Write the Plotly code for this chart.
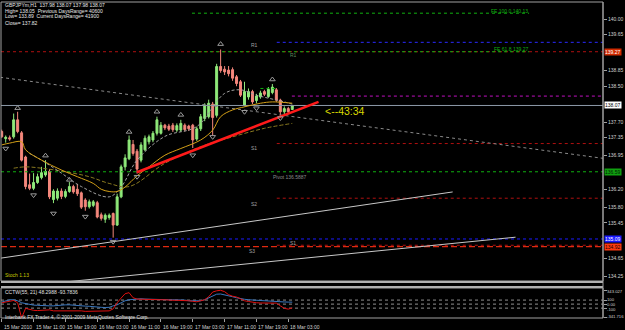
import plotly.graph_objects as go

# ---------------- data ----------------
bars = list(range(74))
opens = [137.49,137.33,137.35,137.37,137.75,137.46,136.92,136.30,136.22,136.35,
         136.46,136.52,136.60,135.97,136.00,136.16,136.04,136.15,136.26,136.20,
         136.12,135.96,135.81,135.84,135.90,135.63,135.53,135.57,135.66,135.40,
         136.03,136.70,136.88,137.20,137.05,136.85,137.08,137.26,137.30,137.45,
         137.45,137.63,137.61,137.63,137.52,137.52,137.63,137.61,137.63,137.32,
         137.55,137.78,137.82,138.10,137.85,138.94,138.88,138.86,138.87,138.71,
         138.60,138.08,138.26,138.38,138.18,138.26,138.38,138.27,138.36,138.42,
         138.19,137.93,138.00,137.98]
highs = [137.53,137.40,137.40,137.89,137.93,137.50,136.95,136.55,136.56,136.55,
         136.70,136.85,136.65,136.20,136.22,136.22,136.20,136.36,136.30,136.32,
         136.15,136.00,135.97,135.96,135.94,135.68,135.66,135.66,135.68,136.10,
         136.75,136.98,137.40,137.30,137.10,137.25,137.40,137.42,137.50,137.82,
         137.70,137.66,137.66,137.68,137.67,137.75,137.67,137.64,137.66,137.60,
         137.88,138.12,138.20,138.15,139.00,139.32,138.95,138.95,138.92,138.75,
         138.64,138.60,138.45,138.42,138.33,138.40,138.42,138.48,138.55,138.46,
         138.22,138.05,138.04,138.07]
lows = [137.35,137.24,137.28,137.33,137.45,136.82,136.20,136.18,136.18,136.32,
        136.42,136.48,135.98,135.89,135.95,135.98,136.00,136.12,136.10,136.05,
        135.76,135.72,135.77,135.80,135.55,135.50,135.45,135.52,135.12,135.38,
        136.00,136.62,136.85,136.95,136.55,136.80,137.05,137.20,137.25,137.40,
        137.42,137.52,137.50,137.48,137.48,137.48,137.49,137.50,137.12,137.28,
        137.50,137.72,137.78,137.40,137.80,138.80,138.75,138.72,138.62,138.50,
        138.26,138.05,138.20,138.10,138.12,138.22,138.28,138.24,138.32,138.15,
        137.81,137.88,137.88,137.98]
closes = [137.37,137.36,137.32,137.75,137.49,136.85,136.26,136.22,136.35,136.48,
          136.57,136.60,136.03,136.16,136.16,136.04,136.15,136.26,136.14,136.10,
          135.80,135.81,135.92,135.92,135.58,135.55,135.62,135.62,135.40,136.03,
          136.70,136.90,137.30,137.00,136.65,137.19,137.34,137.37,137.45,137.75,
          137.63,137.57,137.54,137.53,137.62,137.67,137.53,137.55,137.30,137.55,
          137.82,138.08,138.12,137.80,138.94,138.85,138.82,138.78,138.68,138.56,
          138.30,138.38,138.38,138.15,138.28,138.35,138.32,138.43,138.48,138.19,
          137.93,138.00,137.93,138.07]

# moving averages
ma_fast_x = [0, 2, 5, 6, 10, 15, 19, 23, 25, 27, 29, 31, 34, 37, 41, 45, 50, 53, 55, 58, 61, 65, 68, 73]
ma_fast_y = [137.19, 137.23, 137.26, 137.08, 136.85, 136.63, 136.48, 136.33, 136.20, 136.15, 136.15, 136.25,
             136.50, 136.70, 136.96, 137.11, 137.30, 137.52, 137.82, 137.97, 138.04, 138.12, 138.15, 138.12]
ma_slow_x = [3, 6, 10, 16, 22, 27, 32, 41, 50, 58, 66, 73]
ma_slow_y = [136.67, 136.70, 136.67, 136.59, 136.48, 136.33, 136.26, 136.78, 137.15, 137.37, 137.56, 137.67]
ma_gray_x = [7, 10, 15, 20, 27, 30, 34, 41, 49, 56, 60, 64, 71, 73]
ma_gray_y = [137.00, 136.85, 136.56, 136.26, 136.03, 136.25, 136.85, 137.38, 137.60, 138.34, 138.42, 138.30, 138.15, 138.10]

# fractals
frac_up_x = [4, 11, 17, 32, 39, 45, 55, 68]
frac_up_y = [138.01, 136.95, 136.41, 137.48, 137.93, 137.86, 139.44, 138.65]
frac_dn_x = [1, 8, 13, 21, 28, 34, 48, 53, 61, 64, 70]
frac_dn_y = [137.11, 136.07, 135.66, 135.59, 135.03, 136.48, 136.96, 137.37, 137.93, 138.01, 137.79]

# drawn lines
trend_x = [34, 79.6]
trend_y = [136.58, 138.15]
diag_x = [-0.4, 151.1]
diag_y = [138.70, 136.89]
riseA_x = [-0.4, 113.3]
riseA_y = [134.66, 136.14]
riseB_x = [0, 129.1]
riseB_y = [133.99, 135.13]

# horizontal levels
bid_price = 138.07
fe100_price, fe618_price = 140.13, 139.27
r1_price = 139.27
blue_hi_price = 139.48
magenta_price = 138.28
s1_price, s2_price, s3_price = 137.22, 136.00, 134.95
pivot_price = 136.59
blue_lo_price = 135.09
red_dash_price = 134.92
green_box_price = 138.45

# indicator CCTW(55,21)
cct_red = [33, 58, 83, 90, 33, -341.72, -105, -130, -155, -160, -155, -143, -143, -168, -168, -168, -168,
           -155, -155, -168, -168, -180, -180, -180, -180, -186, -186, -168, -118, 33, 150, 258, 284, 158,
           125, 120, 113, 108, 108, 108, 108, 108, 95, 95, 95, 95, 95, 83, 70, 58, 83, 108, 183, 300, 330,
           343.03, 309, 233, 196, 176, 133, 83, 65, 45, 33, 28, 25, 25, 25, 25, -43, -105, -125, -93.78]
cct_blue = [50, 83, 108, 108, 83, 33, 8, -18, -25, -30, -38, -43, -43, -43, -30, -30, -18, -18, -30, -43,
            -43, -50, -55, -68, -75, -80, -85, -80, -43, -18, 33, 83, 108, 120, 133, 133, 125, 120, 115, 115,
            115, 113, 108, 108, 108, 108, 100, 83, 83, 83, 83, 108, 158, 208, 246, 251, 233, 208, 183, 158,
            133, 120, 108, 100, 95, 83, 83, 78, 70, 65, 58, 53, 50, 48.30]

price_ticks = [140.00, 139.65, 138.85, 138.50, 137.70, 137.35, 136.95, 136.20, 135.80, 135.45, 134.65, 134.25]
time_tick_bars = [0, 8, 16, 24, 32, 40, 48, 56, 64, 72]
time_tick_labels = ["15 Mar 2010", "15 Mar 11:00", "15 Mar 19:00", "16 Mar 03:00", "16 Mar 11:00",
                    "16 Mar 19:00", "17 Mar 03:00", "17 Mar 11:00", "17 Mar 19:00", "18 Mar 03:00"]
cct_ticks = [343.027, 100, 0, -100, -341.716]
cct_tick_labels = ["343.027", "100", "0.00", "-100", "-341.716"]

header_lines = ["GBPJPYm,H1  137.98 138.07 137.98 138.07",
                "High= 138.05  Previous DaysRange= 40600",
                "Low= 133.89  Current DaysRange= 41900",
                "Close= 137.82"]

# ---------------- figure ----------------
W, H = 625, 330
ML, MR, MT, MB = 1, 19, 2, 12
PH = H - MT - MB
XMAX = 151.07
XMIN = -0.18
CCT_RANGE = [-345, 400]


def paper_y(ypix):
    return (H - MB - ypix) / PH


def paper_x(xpix):
    return (xpix - ML) / (W - ML - MR)


main_bottom = paper_y(281)
ind_top = paper_y(288)

FONT = "Liberation Sans, Arial, sans-serif"
SMALL = 5
BULL = "#8fe97a"
BEAR = "#f4877c"
DKRED = "#b01010"
GREEN = "#10b010"
AXTXT = "#d0d0d0"

fig = go.Figure()


def hline(price, x0, x1, color, dash, width=1):
    fig.add_trace(go.Scatter(x=[x0, x1], y=[price, price], mode="lines",
                             line=dict(color=color, dash=dash, width=width),
                             hoverinfo="skip", showlegend=False, xaxis="x", yaxis="y"))


hline(r1_price, XMIN, XMAX, DKRED, "dot")
hline(fe618_price, 47.8, 132.5, GREEN, "dot")
hline(fe100_price, 47.8, 132.5, GREEN, "dot")
hline(blue_hi_price, 69.1, XMAX, "#2a2aff", "dot")
hline(magenta_price, 72.9, XMAX, "#c010c0", "dot")
hline(green_box_price, 65, 69, GREEN, "dot")
hline(s1_price, 69.1, XMAX, DKRED, "dot")
hline(pivot_price, XMIN, XMAX, GREEN, "dot")
hline(s2_price, 69.1, XMAX, DKRED, "dot")
hline(blue_lo_price, XMIN, XMAX, "#1a1aff", "dot")
hline(s3_price, 69.1, XMAX, DKRED, "dot")
hline(red_dash_price, XMIN, XMAX, "#e02a10", "6px,3px", 1.3)
hline(bid_price, XMIN, XMAX, "#8c9aa8", "solid")

for xs, ys, col, dash in [(diag_x, diag_y, "#8a8a8a", "dot"),
                          (riseA_x, riseA_y, "#c8c8c8", "solid"),
                          (riseB_x, riseB_y, "#c8c8c8", "solid")]:
    fig.add_trace(go.Scatter(x=xs, y=ys, mode="lines", line=dict(color=col, dash=dash, width=1),
                             hoverinfo="skip", showlegend=False, xaxis="x", yaxis="y"))

# moving averages
fig.add_trace(go.Scatter(x=ma_slow_x, y=ma_slow_y, mode="lines", line=dict(color="#8a7a20", dash="4px,2px", width=1),
                         line_shape="spline", hoverinfo="skip", showlegend=False))
fig.add_trace(go.Scatter(x=ma_gray_x, y=ma_gray_y, mode="lines", line=dict(color="#a0a0a0", dash="3px,2px", width=1),
                         line_shape="spline", hoverinfo="skip", showlegend=False))
fig.add_trace(go.Scatter(x=ma_fast_x, y=ma_fast_y, mode="lines", line=dict(color="#d4a017", width=1),
                         line_shape="spline", hoverinfo="skip", showlegend=False))

# candles
fig.add_trace(go.Candlestick(x=bars, open=opens, high=highs, low=lows, close=closes,
                             increasing=dict(line=dict(color=BULL, width=1), fillcolor=BULL),
                             decreasing=dict(line=dict(color=BEAR, width=1), fillcolor=BEAR),
                             whiskerwidth=0, hoverinfo="skip", showlegend=False))

# trend line
fig.add_trace(go.Scatter(x=trend_x, y=trend_y, mode="lines", line=dict(color="#ff1a1a", width=2.6),
                         hoverinfo="skip", showlegend=False))

# fractals
fig.add_trace(go.Scatter(x=frac_up_x, y=frac_up_y, mode="markers",
                         marker=dict(symbol="triangle-up-open", size=5, color="#9a9a9a", line=dict(width=1)),
                         hoverinfo="skip", showlegend=False))
fig.add_trace(go.Scatter(x=frac_dn_x, y=frac_dn_y, mode="markers",
                         marker=dict(symbol="triangle-down-open", size=5, color="#9a9a9a", line=dict(width=1)),
                         hoverinfo="skip", showlegend=False))

# indicator
for lv in [100, 0, -100]:
    fig.add_trace(go.Scatter(x=[XMIN, XMAX], y=[lv, lv], mode="lines",
                             line=dict(color="#909090", dash="dot", width=1),
                             hoverinfo="skip", showlegend=False, xaxis="x2", yaxis="y2"))
fig.add_trace(go.Scatter(x=bars, y=cct_blue, mode="lines", line=dict(color="#3a78c0", width=1),
                         hoverinfo="skip", showlegend=False, xaxis="x2", yaxis="y2"))
fig.add_trace(go.Scatter(x=bars, y=cct_red, mode="lines", line=dict(color="#e01010", width=1),
                         hoverinfo="skip", showlegend=False, xaxis="x2", yaxis="y2"))

axis_common = dict(showgrid=False, zeroline=False, showline=False)
fig.update_layout(
    width=W, height=H, margin=dict(l=ML, r=MR, t=MT, b=MB),
    paper_bgcolor="black", plot_bgcolor="black",
    showlegend=False,
    xaxis=dict(domain=[0, 1], range=[XMIN, XMAX], anchor="y", showticklabels=False, ticks="",
               rangeslider=dict(visible=False), **axis_common),
    yaxis=dict(domain=[main_bottom, 1], range=[134.152, 140.38], side="right", anchor="x",
               tickvals=price_ticks, ticktext=[f"{v:.2f}" for v in price_ticks],
               ticks="outside", ticklen=3, tickcolor="#a0a0a0",
               tickfont=dict(family=FONT, size=SMALL, color=AXTXT), **axis_common),
    xaxis2=dict(domain=[0, 1], range=[XMIN, XMAX], anchor="y2", showticklabels=False,
                tickvals=time_tick_bars, ticks="outside", ticklen=3, tickcolor="#a0a0a0", **axis_common),
    yaxis2=dict(domain=[0, ind_top], range=CCT_RANGE, side="right", anchor="x2",
                tickvals=cct_ticks, showticklabels=False,
                ticks="outside", ticklen=3, tickcolor="#a0a0a0", **axis_common),
)

shapes = []
frame = dict(color="#a0a0a0", width=1)
shapes.append(dict(type="rect", xref="paper", yref="paper", x0=0, x1=1, y0=main_bottom, y1=1, line=frame))
shapes.append(dict(type="rect", xref="paper", yref="paper", x0=0, x1=1, y0=0, y1=ind_top, line=frame))
shapes.append(dict(type="line", xref="paper", yref="paper", x0=0, x1=1, y0=paper_y(282), y1=paper_y(282),
                   line=dict(color="#b0b0b0", width=2)))
shapes.append(dict(type="line", xref="paper", yref="paper", x0=0, x1=1, y0=paper_y(287), y1=paper_y(287),
                   line=dict(color="#b0b0b0", width=2)))
shapes.append(dict(type="line", xref="paper", yref="paper", x0=1, x1=1, y0=0, y1=1,
                   line=dict(color="#a0a0a0", width=1)))
fig.update_layout(shapes=shapes)

ann = []


def text(x, y, s, color, size=SMALL, xanchor="left", xref="x", yref="y", **kw):
    ann.append(dict(x=x, y=y, text=s, showarrow=False, xref=xref, yref=yref, xanchor=xanchor,
                    yanchor="middle", font=dict(family=FONT, size=size, color=color), **kw))


# header
for line, yp in zip(header_lines, [5, 10.5, 16, 22.5]):
    text(paper_x(3), paper_y(yp), line, "#e8e8e8", xref="paper", yref="paper")

# time labels
for b, lab in zip(time_tick_bars, time_tick_labels):
    ann.append(dict(x=b, y=0, xref="x2", yref="paper", text=lab, showarrow=False,
                    xanchor="left", yanchor="top", xshift=0, yshift=-4,
                    font=dict(family=FONT, size=SMALL, color=AXTXT)))

# indicator axis labels (nudged apart slightly as in the original)
for v, lab, sh in zip(cct_ticks, cct_tick_labels, [-1, 1, 0, -1, 1]):
    ann.append(dict(x=1, y=v, xref="paper", yref="y2", text=lab, showarrow=False,
                    xanchor="left", yanchor="middle", xshift=2, yshift=sh,
                    font=dict(family=FONT, size=4.2, color=AXTXT)))

# level labels
text(132.7, fe100_price, "FE 100.0 140.13", GREEN, xanchor="right", yshift=2)
text(132.7, fe618_price, "FE 61.8 139.27", GREEN, xanchor="right", yshift=3)
text(63.4, 139.42, "R1", "#a0a0a0", xanchor="center")
text(73.4, 139.20, "R1", "#5f8a5f", xanchor="center")
text(63.4, 137.12, "S1", "#a0a0a0", xanchor="center")
text(63.4, 135.88, "S2", "#a0a0a0", xanchor="center")
text(62.9, 134.83, "S3", "#a0a0a0", xanchor="center")
text(73.1, 135.00, "S1", "#a0a0a0", xanchor="center")
text(72.5, 136.48, "Pivot 136.5887", "#8a8a8a", xanchor="center")
text(80.8, 137.95, "<--43:34", "#d8d800", size=10.5)
text(paper_x(3), paper_y(275), "Stoch 1.13", "#c8c800", xref="paper", yref="paper")
text(paper_x(3), paper_y(292), "CCTW(55, 21) 48.2988 -93.7836", "#e0e0e0", xref="paper", yref="paper")
text(paper_x(3), paper_y(316.5), "Interbank FX Trader 4, \u00a9 2001-2009 MetaQuotes Software Corp.", "#e0e0e0",
     xref="paper", yref="paper")

# price boxes on the axis
for price, bg, fg in [(r1_price, "#d02a00", "#ffffff"), (bid_price, "#ffffff", "#000000"),
                      (pivot_price, "#10a010", "#002000"), (blue_lo_price, "#1a1aff", "#ffffff"),
                      (red_dash_price, "#ff3a10", "#200000")]:
    ann.append(dict(x=1, y=price, xref="paper", yref="y", text=f"{price:.2f}", showarrow=False,
                    xanchor="left", yanchor="middle", xshift=1, bgcolor=bg, borderpad=0,
                    font=dict(family=FONT, size=SMALL, color=fg)))

fig.update_layout(annotations=ann)
fig.write_html("out.html")
